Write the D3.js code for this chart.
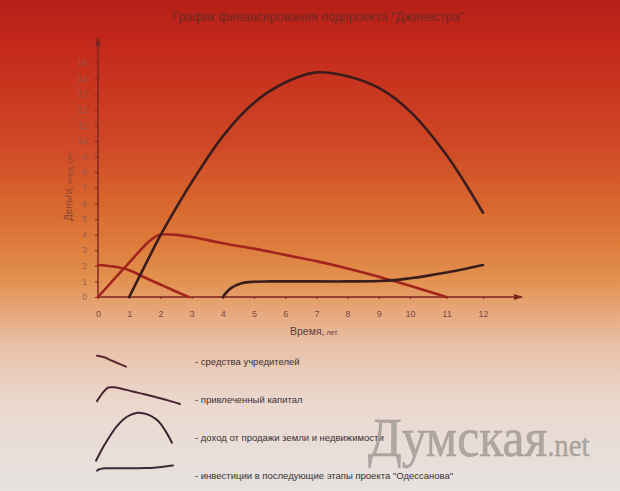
<!DOCTYPE html>
<html><head><meta charset="utf-8">
<script src="https://cdn.jsdelivr.net/npm/d3@7"></script>
<style>html,body{margin:0;padding:0;background:#ddd;}svg{display:block;}</style>
</head><body>
<script>
// ---- data ----
const title = "График финансирования подпроекта \"Джинестра\"";
const xTicks = [0,1,2,3,4,5,6,7,8,9,10,11,12];
const yTicks = [0,1,2,3,4,5,6,7,8,9,10,11,12,13,14,15];
// [year, money]
const founders = [[0,2.05],[0.5,1.95],[1,1.72],[1.5,1.25],[2,0.8],[2.5,0.35],[2.9,0]];
const raised = [[0,0],[1,2.2],[1.6,3.5],[1.95,3.97],[2.4,4.0],[3,3.85],[4,3.45],[5,3.1],[6,2.7],[7,2.3],[8,1.83],[9,1.3],[10,0.72],[11,0]];
const income = [[1,0],[1.5,2.0],[2,3.95],[2.5,5.7],[3,7.35],[4,10.3],[5,12.45],[6,13.75],[7,14.4],[8,14.15],[9,13.4],[10,11.9],[11,9.1],[12,5.4]];
const invest = [[4,0],[4.25,0.55],[4.6,0.88],[5,0.98],[5.5,1.0],[7,1.0],[8,1.0],[9,1.03],[9.5,1.08],[10,1.2],[10.5,1.37],[11,1.57],[11.5,1.8],[12,2.05]];
const legendLabels = ["- средства учредителей","- привлеченный капитал","- доход от продажи земли и недвижимости","- инвестиции в последующие этапы проекта \"Одессанова\""];

const W = 620, H = 491;
const svg = d3.select("body").append("svg").attr("width", W).attr("height", H);
const defs = svg.append("defs");
const bg = defs.append("linearGradient").attr("id","bg").attr("x1",0).attr("y1",0).attr("x2",0).attr("y2",1);
[[0,"#b51f18"],[0.1,"#c42a1b"],[0.3,"#cf4926"],[0.41,"#d8652e"],[0.49,"#dd7a3a"],[0.57,"#e2914f"],[0.62,"#e6a272"],[0.7,"#e9c0a6"],[0.82,"#ebd8ce"],[1,"#e6e2e0"]]
  .forEach(s => bg.append("stop").attr("offset", s[0]).attr("stop-color", s[1]));
svg.append("rect").attr("width", W).attr("height", H).attr("fill","url(#bg)");

const font = "'Liberation Sans', Arial, sans-serif";

const x = d3.scaleLinear().domain([0,10,12]).range([98,410,483]);
const y = d3.scaleLinear().domain([0,15]).range([297,63]);

// title
svg.append("text").attr("x",318).attr("y",21).attr("text-anchor","middle")
  .attr("font-family",font).attr("font-size",12.5).attr("fill","#6e2a24").text(title);

// axes
const axisColor = "#7a2520";
const gx = svg.append("g").attr("transform",`translate(0,${y(0)})`)
  .call(d3.axisBottom(x).tickValues(xTicks).tickSize(2).tickPadding(12).tickFormat(d3.format("d")));
const gy = svg.append("g").attr("transform",`translate(${x(0)},0)`)
  .call(d3.axisLeft(y).tickValues(yTicks).tickSize(3).tickPadding(8).tickFormat(d3.format("d")));
[gx, gy].forEach(g => {
  g.select(".domain").remove();
  g.selectAll(".tick line").attr("stroke", axisColor).attr("stroke-width",1);
  g.selectAll(".tick text").attr("font-family",font);
});
gx.selectAll(".tick text").attr("font-size",9).attr("fill","#7a4a46");
gy.selectAll(".tick text").attr("font-size",8.5).attr("fill","#8c5a55").attr("fill-opacity",0.9);
// axis lines with arrows
svg.append("line").attr("x1",x(0)).attr("y1",y(0)).attr("x2",x(0)).attr("y2",38)
  .attr("stroke",axisColor).attr("stroke-width",1.4);
svg.append("path").attr("d",`M${x(0)-3},46 L${x(0)},37 L${x(0)+3},46 Z`).attr("fill",axisColor);
svg.append("line").attr("x1",x(0)).attr("y1",y(0)).attr("x2",522).attr("y2",y(0))
  .attr("stroke",axisColor).attr("stroke-width",1.4);
svg.append("path").attr("d",`M514,${y(0)-3} L523,${y(0)} L514,${y(0)+3} Z`).attr("fill",axisColor);

// axis titles
const xl = svg.append("text").attr("x",290).attr("y",335).attr("font-family",font).attr("fill","#5e3a3a");
xl.append("tspan").attr("font-size",10.5).text("Время,");
xl.append("tspan").attr("font-size",7).text(" лет");
const yl = svg.append("text").attr("transform","translate(72,186) rotate(-90)").attr("text-anchor","middle")
  .attr("font-family",font).attr("fill","#8a4538");
yl.append("tspan").attr("font-size",10).text("Деньги,");
yl.append("tspan").attr("font-size",7).text(" млрд. грн.");

// series
const line = (xs, ys) => d3.line().x(d => xs(d[0])).y(d => ys(d[1])).curve(d3.curveCatmullRom.alpha(0.5));
const series = [
  {data: founders, color:"#a3231d", w:2.6},
  {data: raised, color:"#a3231d", w:2.6},
  {data: invest, color:"#3a1c1c", w:2.6},
  {data: income, color:"#3a1c1c", w:2.6}
];
series.forEach(s => svg.append("path").attr("d", line(x,y)(s.data)).attr("fill","none")
  .attr("stroke", s.color).attr("stroke-width", s.w).attr("stroke-linecap","round"));

// legend samples (mini scales over each series)
const legend = [
  {data: founders.filter(d=>d[0]>=0.5 && d[0]<=2.5), xs: d3.scaleLinear().domain([0.5,2.5]).range([97,126]), ys: d3.scaleLinear().domain([0.35,1.95]).range([366.7,355.7]), color:"#5e2630"},
  {data: raised.filter(d=>d[0]>=1 && d[0]<=8), xs: d3.scaleLinear().domain([1,8]).range([97,180]), ys: d3.scaleLinear().domain([1.83,4.0]).range([404,387.3]), color:"#4a2430"},
  {data: income, xs: d3.scaleLinear().domain([1,12]).range([96,172]), ys: d3.scaleLinear().domain([0,14.4]).range([460.7,412.7]), color:"#3c2832"},
  {data: invest, xs: d3.scaleLinear().domain([4,12]).range([97,173]), ys: d3.scaleLinear().domain([0,2]).range([470.7,465.6]), color:"#3c2c3a"}
];
const legendY = [365, 403, 441, 479];
legend.forEach((l,i) => {
  svg.append("path").attr("d", line(l.xs,l.ys)(l.data)).attr("fill","none")
    .attr("stroke", l.color).attr("stroke-width",2).attr("stroke-linecap","round");
  svg.append("text").attr("x",195).attr("y",legendY[i]).attr("font-family",font)
    .attr("font-size",9.5).attr("fill","#3a3035").text(legendLabels[i]);
});

// watermark
const wm = svg.append("text").attr("transform","translate(368,456) scale(0.9,1)").attr("font-family","'Liberation Serif', 'DejaVu Serif', serif")
  .attr("fill","#a49e99").attr("fill-opacity",0.85).attr("stroke","#8a8580").attr("stroke-opacity",0.4).attr("stroke-width",0.8);
wm.append("tspan").attr("font-size",55).text("Думская");
wm.append("tspan").attr("font-size",32).text(".net");
</script>
</body></html>
